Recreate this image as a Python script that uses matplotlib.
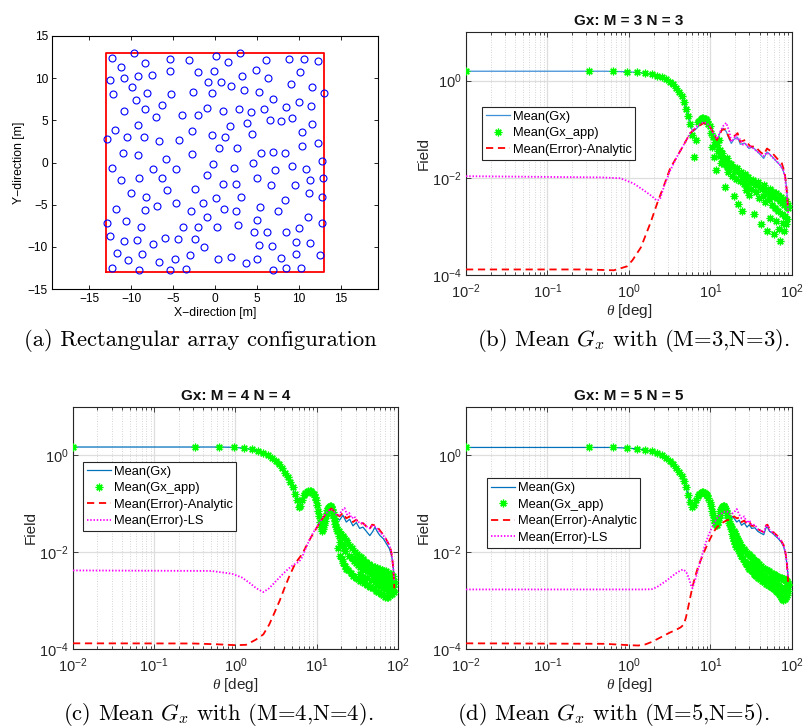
import numpy as np
import matplotlib
matplotlib.use("Agg")
import matplotlib.pyplot as plt
from matplotlib.ticker import FixedLocator, LogLocator, NullFormatter, NullLocator

# ---------------- data ----------------
# (a) element positions [m]
ant_x = [-9.7, 3.0, -12.2, -5.4, -3.1, 0.1, 1.5, 6.1, 8.8, 10.6,
         12.2, -11.2, -8.3, -12.5, -10.8, -9.2, -7.5, -5.3, -2.0, -0.1,
         3.2, 4.9, 6.3, 10.1, -0.8, 0.7, 1.9, 3.4, 9.0, 11.5,
         -9.9, -12.1, -8.1, -5.2, -2.6, -0.4, 5.2, 13.0, -9.4, -6.3,
         -10.8, -8.3, -1.0, 1.0, 2.9, 4.3, 5.8, 6.9, 8.4, 10.0,
         11.4, -7.0, -3.9, -2.0, 1.8, 3.8, 6.6, 7.9, 9.2, -9.2,
         -11.9, -2.7, -0.3, 1.2, 4.4, 10.4, 11.5, -12.9, -10.5, -8.5,
         -6.7, -4.3, 0.5, 2.6, 6.9, 8.3, 10.3, 12.3, -11.0, -9.2,
         -5.8, -2.7, -0.2, 2.3, 4.5, 5.5, 7.1, 9.2, 10.8, 12.7,
         -12.3, -7.4, -4.7, -0.9, -9.1, -6.3, -11.2, 0.9, 2.5, 5.0,
         6.7, 9.5, 11.3, 12.8, -10.0, -8.2, -5.7, -2.4, 3.1, 11.2,
         12.7, -11.8, -8.3, -6.9, -4.7, -2.9, -1.4, 0.1, 1.1, 2.5,
         5.4, 7.5, 8.3, -12.8, -10.6, -8.8, -3.8, -2.0, -0.9, 0.2,
         2.7, 4.6, 5.0, 6.2, 8.5, 10.0, 11.1, 12.7, -12.5, -10.8,
         -9.3, -7.4, -6.0, -4.4, -2.4, -1.3, 5.2, 6.8, 9.7, 11.3,
         -11.7, -10.3, -8.7, -6.7, -4.8, -3.0, 0.4, 1.9, 3.7, 5.0,
         7.8, 9.6, 12.5, -12.3, -9.0, -5.4, -3.4, 6.9, 8.5, 10.2]
ant_y = [13.0, 13.0, 12.4, 12.3, 12.1, 12.6, 11.9, 12.2, 12.3, 12.3,
         12.0, 11.3, 11.8, 9.8, 10.0, 10.3, 10.4, 10.8, 10.7, 10.9,
         10.2, 11.0, 10.0, 10.7, 9.6, 9.5, 9.1, 8.6, 9.3, 9.0,
         8.9, 8.1, 8.2, 8.1, 8.4, 8.3, 8.4, 8.3, 7.4, 6.8,
         6.1, 6.3, 6.5, 6.1, 6.4, 6.0, 6.4, 7.5, 6.6, 7.2,
         6.7, 5.4, 5.6, 5.6, 4.3, 4.7, 5.0, 4.9, 5.3, 4.5,
         3.9, 3.7, 3.3, 3.0, 3.4, 3.6, 4.6, 2.8, 3.0, 3.0,
         2.6, 2.7, 1.7, 1.7, 1.3, 1.1, 1.9, 2.3, 1.1, 0.9,
         0.4, 1.0, -0.2, -0.6, -0.1, 1.1, -0.9, -0.4, -0.8, 0.2,
         -0.7, -0.8, -0.8, -1.5, -1.8, -1.8, -2.1, -2.6, -2.5, -1.8,
         -2.7, -2.7, -2.1, -1.8, -3.6, -4.1, -3.3, -3.2, -4.1, -3.6,
         -4.1, -5.5, -5.6, -5.1, -4.8, -5.7, -4.8, -4.2, -5.5, -5.8,
         -5.3, -5.7, -4.5, -7.2, -6.9, -7.6, -7.6, -7.7, -6.5, -7.7,
         -7.4, -8.2, -6.8, -8.2, -8.3, -7.8, -6.5, -7.2, -8.7, -9.3,
         -9.2, -9.7, -9.0, -9.1, -9.1, -10.0, -9.8, -9.9, -9.4, -9.6,
         -10.7, -11.6, -10.8, -11.8, -11.4, -11.0, -11.4, -11.2, -11.9, -11.4,
         -11.3, -10.8, -11.0, -12.5, -12.8, -12.8, -12.6, -12.7, -12.5, -12.5]
edge_x = [-13, 13, 13, -13, -13]
edge_y = [-13, -13, 13, 13, -13]

# (b) M = N = 3
gx3_t = [0.01, 0.5, 0.95, 1.27, 1.58, 1.95, 2.3, 2.65, 2.92, 3.2,
         3.52, 3.8, 4.05, 4.33, 4.58, 4.81, 4.99, 5.23, 5.43, 5.64,
         5.9, 6.1, 6.4, 6.8, 7.3, 7.8, 8.6, 9.5, 10.4, 11.2,
         11.8, 12.4, 13.0, 14.2, 15.6, 16.8, 18.0, 19.4, 21.5, 23.2,
         24.5, 26.0, 28.0, 29.6, 31.5, 33.2, 35.5, 38.0, 41.6, 45.0,
         49.3, 53.0, 58.5, 65.5, 72.0, 77.5, 82.5, 85.5, 88.0, 90.0]
gx3_v = [1.56, 1.56, 1.52, 1.47, 1.42, 1.33, 1.23, 1.14, 1.05, 0.92,
         0.83, 0.70, 0.60, 0.52, 0.42, 0.345, 0.27, 0.21, 0.17, 0.133,
         0.1, 0.09, 0.095, 0.105, 0.12, 0.135, 0.144, 0.133, 0.097, 0.07,
         0.056, 0.065, 0.083, 0.105, 0.09, 0.065, 0.051, 0.062, 0.068, 0.049,
         0.05, 0.052, 0.046, 0.04, 0.042, 0.042, 0.038, 0.034, 0.029, 0.025,
         0.034, 0.031, 0.026, 0.021, 0.018, 0.0144, 0.0103, 0.0065, 0.0035, 0.0021]
app3_t = [0.01, 0.32, 0.63, 0.95, 1.26, 1.58, 1.89, 2.2, 2.52, 2.83,
          3.15, 3.46, 3.78, 4.09, 4.41, 4.72, 5.04, 5.35, 5.67, 5.98,
          6.3, 6.61, 6.93, 7.24, 7.56, 7.87, 8.19, 8.5, 8.82, 9.13,
          9.45, 9.76, 10.08, 10.39, 10.71, 11.02, 11.34, 11.65, 11.97, 12.28,
          12.6, 12.91, 13.23, 13.54, 13.86, 14.17, 14.49, 14.8, 15.12, 15.43,
          15.75, 16.06, 16.38, 16.69, 17.0, 17.6, 18.3, 18.9, 19.5, 20.1,
          20.8, 21.4, 22.0, 22.7, 23.3, 23.9, 24.6, 25.2, 25.8, 26.5,
          27.1, 27.7, 28.4, 29.0, 29.6, 30.3, 31.5, 32.8, 34.0, 35.3,
          36.6, 37.8, 39.1, 40.4, 41.6, 42.9, 44.2, 45.4, 46.7, 47.9,
          49.2, 50.5, 51.7, 53.0, 54.3, 55.5, 56.8, 58.0, 59.3, 60.6,
          61.8, 63.1, 64.4, 65.6, 66.9, 68.1, 69.4, 70.7, 71.9, 73.2,
          74.5, 75.7, 77.0, 78.2, 79.5, 80.8, 82.0, 83.3, 84.6, 85.8,
          87.1, 88.3, 89.6]
app3_v = [1.56, 1.56, 1.55, 1.52, 1.47, 1.42, 1.35, 1.26, 1.17, 1.08,
          0.95, 0.85, 0.71, 0.59, 0.49, 0.37, 0.26, 0.185, 0.13, 0.075,
          0.027, 0.06, 0.14, 0.15, 0.165, 0.17, 0.17, 0.165, 0.16, 0.15,
          0.13, 0.114, 0.083, 0.044, 0.07, 0.027, 0.055, 0.0144, 0.048, 0.035,
          0.06, 0.028, 0.037, 0.02, 0.032, 0.026, 0.019, 0.023, 0.0065, 0.021,
          0.017, 0.025, 0.013, 0.02, 0.016, 0.019, 0.011, 0.017, 0.0042, 0.014,
          0.0095, 0.016, 0.0029, 0.012, 0.0085, 0.013, 0.0021, 0.0105, 0.0075, 0.012,
          0.0055, 0.009, 0.0065, 0.0105, 0.0045, 0.0082, 0.0058, 0.0092, 0.0018, 0.0072,
          0.005, 0.0082, 0.0038, 0.0065, 0.0011, 0.0058, 0.0042, 0.007, 0.0032, 0.0055,
          0.0008, 0.0048, 0.0036, 0.006, 0.0015, 0.0045, 0.0028, 0.0052, 0.0007, 0.0041,
          0.0024, 0.0048, 0.0013, 0.0038, 0.0021, 0.0044, 0.0009, 0.0034, 0.0005, 0.0041,
          0.0018, 0.003, 0.0012, 0.0036, 0.0008, 0.0027, 0.0016, 0.0033, 0.0011, 0.0025,
          0.0014, 0.0028, 0.0024]
err3_t = [0.01, 0.3, 0.65, 0.94, 1.1, 1.4, 1.85, 2.25, 2.7, 3.2,
          3.87, 4.67, 5.64, 6.8, 8.2, 9.5, 10.9, 12.0, 13.8, 15.2,
          17.5, 19.2, 21.5, 23.2, 26.7, 30.8, 35.4, 40.8, 45.0, 49.3,
          54.2, 65.5, 75.0, 81.5, 85.5, 89.0, 90.0]
err3_v = [1.3e-4, 1.3e-4, 1.25e-4, 1.5e-4, 2.0e-4, 3.7e-4, 1.23e-3, 3.2e-3, 7.1e-3, 0.0157,
          0.027, 0.047, 0.083, 0.11, 0.133, 0.125, 0.083, 0.06, 0.097, 0.1,
          0.06, 0.07, 0.083, 0.055, 0.06, 0.044, 0.044, 0.034, 0.03, 0.04,
          0.036, 0.025, 0.02, 0.0125, 0.0065, 0.0027, 0.0022]
ls3_t = [0.01, 0.44, 0.78, 1.13, 1.5, 1.8, 2.0, 2.2, 2.4, 2.7,
         3.2, 3.87, 4.67, 5.64, 6.8, 8.2, 9.0, 9.9, 10.9, 12.0,
         13.2, 14.5, 15.6, 17.0, 18.0, 19.4, 20.5, 21.5, 23.2, 25.0,
         26.8, 29.0, 31.5, 35.0, 38.0, 42.0, 45.0, 49.0, 53.0, 58.0,
         65.0, 72.0, 78.0, 82.0, 85.5, 88.0, 90.0]
ls3_v = [0.0108, 0.0102, 0.0098, 0.0077, 0.0056, 0.0045, 0.0039, 0.0034, 0.0036, 0.0068,
         0.014, 0.027, 0.047, 0.083, 0.115, 0.14, 0.135, 0.11, 0.08, 0.062,
         0.09, 0.12, 0.135, 0.09, 0.055, 0.065, 0.075, 0.06, 0.062, 0.048,
         0.05, 0.042, 0.044, 0.038, 0.034, 0.03, 0.028, 0.033, 0.03, 0.026,
         0.022, 0.018, 0.0145, 0.0105, 0.0055, 0.0028, 0.0018]

# sample angles of Gx_app (c, d): smooth part, then the scattered part
app_grid_t = [0.01, 0.32, 0.63, 0.95, 1.26, 1.58, 1.89, 2.2, 2.52, 2.83,
              3.15, 3.46, 3.78, 4.09, 4.41, 4.72, 5.04, 5.35, 5.67, 5.98,
              6.3, 6.61, 6.93, 7.24, 7.56, 7.87, 8.19, 8.5, 8.82, 9.13,
              9.45, 9.76, 10.08, 10.39, 10.71, 11.02, 11.34, 11.65, 11.97, 12.28,
              12.6, 12.91, 13.23, 13.54, 13.86, 14.17, 14.49, 14.8, 15.12, 15.43,
              15.75, 16.06, 16.38, 16.69, 17.0]
cloud_t = [17.3, 17.6, 18.0, 18.3, 18.6, 18.9, 19.2, 19.6, 19.9, 20.2,
           20.5, 20.8, 21.1, 21.5, 21.8, 22.1, 22.4, 22.7, 23.0, 23.6,
           24.3, 24.9, 25.5, 26.2, 26.8, 27.4, 28.1, 28.7, 29.3, 30.0,
           30.6, 31.2, 31.9, 32.5, 33.1, 33.8, 34.4, 35.0, 35.7, 36.3,
           36.9, 38.2, 39.4, 40.7, 42.0, 43.2, 44.5, 45.8, 47.0, 48.3,
           49.6, 50.8, 52.1, 53.4, 54.6, 55.9, 57.1, 58.4, 59.7, 60.9,
           62.2, 63.5, 64.7, 66.0, 67.2, 68.5, 69.8, 71.0, 72.3, 73.6,
           74.8, 76.1, 77.3, 78.6, 79.9, 81.1, 82.4, 83.7, 84.9, 86.2,
           87.4, 88.7, 89.9,
           30.3, 32.2, 34.1, 36.0, 37.6, 39.1, 41.3, 43.8, 46.4, 48.9,
           51.5, 54.0, 56.5, 59.0, 61.6, 64.1, 66.6, 69.1, 71.7, 74.2,
           76.7, 79.2, 81.8, 84.3, 86.8, 89.3]

# (c) M = N = 4
gx4_t = [0.01, 0.6, 0.95, 1.26, 1.57, 1.9, 2.2, 2.5, 2.8, 3.1,
         3.5, 3.8, 4.1, 4.4, 4.7, 5.0, 5.3, 5.6, 5.9, 6.2,
         6.6, 6.9, 7.2, 7.6, 7.9, 8.2, 8.5, 8.8, 9.1, 9.4,
         9.8, 10.1, 10.4, 10.7, 11.0, 11.3, 11.7, 12.0, 12.6, 13.2,
         13.9, 14.5, 15.1, 15.8, 16.5, 17.4, 19.1, 21.0, 23.1, 25.4,
         27.9, 30.7, 33.7, 37.0, 40.8, 45.0, 49.0, 52.0, 56.0, 60.0,
         66.0, 72.0, 78.0, 82.0, 85.0, 87.0, 89.0, 90.0]
gx4_v = [1.49, 1.49, 1.47, 1.41, 1.33, 1.24, 1.14, 1.02, 0.9, 0.78,
         0.64, 0.53, 0.44, 0.36, 0.28, 0.22, 0.17, 0.13, 0.095, 0.088,
         0.12, 0.15, 0.165, 0.175, 0.18, 0.18, 0.178, 0.17, 0.16, 0.145,
         0.125, 0.1, 0.08, 0.06, 0.045, 0.036, 0.032, 0.038, 0.055, 0.075,
         0.09, 0.095, 0.088, 0.072, 0.06, 0.052, 0.046, 0.058, 0.042, 0.048,
         0.035, 0.041, 0.031, 0.033, 0.027, 0.022, 0.027, 0.033, 0.026, 0.022,
         0.019, 0.015, 0.012, 0.0095, 0.007, 0.005, 0.0035, 0.003]
app4_grid_v = [1.49, 1.49, 1.49, 1.47, 1.41, 1.33, 1.24, 1.14, 1.02, 0.9,
               0.78, 0.65, 0.54, 0.44, 0.36, 0.28, 0.22, 0.16, 0.12, 0.085,
               0.09, 0.12, 0.15, 0.165, 0.175, 0.18, 0.185, 0.18, 0.17, 0.16,
               0.14, 0.12, 0.095, 0.072, 0.055, 0.042, 0.033, 0.028, 0.03, 0.036,
               0.045, 0.055, 0.065, 0.073, 0.08, 0.085, 0.088, 0.088, 0.085, 0.078,
               0.068, 0.06, 0.052, 0.045, 0.038]
app4_cloud_v = [0.033, 0.028, 0.03, 0.012, 0.022, 0.027, 0.0085, 0.016, 0.024, 0.0072,
                0.014, 0.022, 0.006, 0.012, 0.02, 0.0052, 0.0105, 0.018, 0.0045, 0.016,
                0.0042, 0.0085, 0.0135, 0.0037, 0.0075, 0.012, 0.0033, 0.0065, 0.0102, 0.003,
                0.006, 0.0092, 0.0028, 0.0054, 0.0084, 0.0026, 0.005, 0.0078, 0.0025, 0.0046,
                0.0073, 0.0023, 0.0043, 0.0064, 0.0021, 0.004, 0.0057, 0.0019, 0.0036, 0.0052,
                0.0018, 0.0033, 0.0049, 0.0016, 0.003, 0.0047, 0.0015, 0.0028, 0.0045, 0.0014,
                0.0026, 0.0043, 0.0013, 0.0024, 0.0041, 0.0012, 0.0023, 0.004, 0.0012, 0.0022,
                0.0038, 0.0012, 0.0022, 0.0036, 0.0013, 0.0022, 0.0035, 0.0014, 0.0023, 0.0032,
                0.0016, 0.0022, 0.0015,
                0.0075, 0.0068, 0.0036, 0.006, 0.0031, 0.0055, 0.0029, 0.0049, 0.0027, 0.0042,
                0.0024, 0.0039, 0.0021, 0.0036, 0.002, 0.0034, 0.0018, 0.0031, 0.0017, 0.003,
                0.0016, 0.0028, 0.0017, 0.0027, 0.0019, 0.0025]
err4_t = [0.01, 0.3, 0.6, 1.0, 1.35, 1.77, 2.2, 2.6, 3.0, 3.5,
          4.0, 4.6, 5.2, 5.8, 6.4, 7.0, 8.0, 9.0, 10.0, 11.0,
          12.0, 13.0, 14.0, 15.1, 16.5, 17.4, 19.1, 21.0, 23.1, 25.4,
          27.9, 30.7, 33.7, 37.0, 40.8, 44.8, 48.0, 52.0, 56.0, 60.0,
          66.0, 72.0, 78.0, 82.0, 85.0, 87.0, 89.0, 90.0]
err4_v = [1.31e-4, 1.3e-4, 1.25e-4, 1.2e-4, 1.22e-4, 1.55e-4, 2.0e-4, 3.2e-4, 5.5e-4, 1.0e-3,
          1.8e-3, 3.2e-3, 5.0e-3, 6.8e-3, 8.5e-3, 0.011, 0.017, 0.024, 0.032, 0.042,
          0.052, 0.062, 0.072, 0.08, 0.07, 0.062, 0.055, 0.065, 0.05, 0.055,
          0.042, 0.047, 0.038, 0.04, 0.034, 0.03, 0.037, 0.036, 0.033, 0.028,
          0.023, 0.018, 0.014, 0.011, 0.0075, 0.005, 0.0028, 0.0018]
ls4_t = [0.01, 0.5, 0.9, 1.2, 1.5, 1.8, 2.2, 2.6, 3.2, 3.8,
         4.5, 5.3, 6.0, 6.5, 7.0, 8.0, 9.0, 10.0, 11.0, 12.0,
         13.0, 14.0, 15.0, 16.5, 17.4, 19.0, 20.0, 22.0, 23.5, 25.0,
         27.0, 29.0, 31.0, 34.0, 37.0, 41.0, 45.0, 48.0, 52.0, 56.0,
         60.0, 66.0, 72.0, 78.0, 82.0, 85.0, 87.0, 89.0, 90.0]
ls4_v = [0.0042, 0.0041, 0.0036, 0.003, 0.0023, 0.0018, 0.0015, 0.0018, 0.0026, 0.0035,
         0.0046, 0.0056, 0.0063, 0.0075, 0.01, 0.017, 0.025, 0.033, 0.043, 0.053,
         0.063, 0.072, 0.078, 0.068, 0.06, 0.058, 0.07, 0.082, 0.06, 0.065,
         0.05, 0.055, 0.045, 0.04, 0.04, 0.034, 0.031, 0.035, 0.034, 0.03,
         0.026, 0.022, 0.018, 0.014, 0.011, 0.0075, 0.005, 0.0032, 0.0025]

# (d) M = N = 5
gx5_t = [0.01, 0.6, 0.95, 1.26, 1.58, 1.89, 2.2, 2.5, 2.9, 3.5,
         4.1, 4.7, 5.0, 5.4, 5.7, 5.95, 6.3, 6.9, 7.6, 8.2,
         8.8, 9.4, 10.0, 10.6, 11.2, 11.7, 12.3, 13.0, 13.8, 14.5,
         15.2, 15.9, 16.7, 17.5, 18.5, 19.5, 21.0, 22.5, 24.0, 26.0,
         28.0, 30.0, 32.0, 35.0, 38.0, 41.0, 45.0, 48.0, 50.0, 53.0,
         57.0, 62.0, 68.0, 74.0, 79.0, 83.0, 86.0, 88.0, 90.0]
gx5_v = [1.46, 1.46, 1.42, 1.36, 1.3, 1.22, 1.12, 1.0, 0.85, 0.66,
         0.46, 0.29, 0.22, 0.14, 0.1, 0.085, 0.095, 0.14, 0.165, 0.172,
         0.16, 0.135, 0.1, 0.065, 0.045, 0.04, 0.05, 0.068, 0.085, 0.09,
         0.08, 0.065, 0.05, 0.047, 0.055, 0.05, 0.042, 0.046, 0.036, 0.04,
         0.033, 0.037, 0.031, 0.032, 0.027, 0.025, 0.023, 0.032, 0.033, 0.027,
         0.025, 0.022, 0.019, 0.016, 0.013, 0.0095, 0.0062, 0.0042, 0.003]
app5_grid_v = [1.46, 1.46, 1.46, 1.42, 1.36, 1.3, 1.22, 1.12, 1.0, 0.88,
               0.76, 0.66, 0.55, 0.46, 0.37, 0.29, 0.22, 0.15, 0.11, 0.085,
               0.095, 0.12, 0.145, 0.16, 0.17, 0.175, 0.175, 0.17, 0.16, 0.15,
               0.13, 0.11, 0.09, 0.072, 0.058, 0.047, 0.04, 0.036, 0.036, 0.042,
               0.05, 0.06, 0.07, 0.078, 0.085, 0.09, 0.09, 0.088, 0.082, 0.075,
               0.066, 0.058, 0.05, 0.045, 0.04]
app5_cloud_v = [0.036, 0.03, 0.034, 0.024, 0.03, 0.02, 0.028, 0.017, 0.025, 0.015,
                0.022, 0.013, 0.02, 0.0115, 0.018, 0.0105, 0.016, 0.0095, 0.0145, 0.0085,
                0.013, 0.0072, 0.0115, 0.0063, 0.0105, 0.0056, 0.0095, 0.005, 0.009, 0.0046,
                0.0083, 0.0043, 0.0078, 0.004, 0.0074, 0.0036, 0.007, 0.0034, 0.0066, 0.0032,
                0.0062, 0.003, 0.0056, 0.0028, 0.0052, 0.0026, 0.0048, 0.0024, 0.0045, 0.0022,
                0.0042, 0.0021, 0.004, 0.002, 0.0038, 0.0019, 0.0036, 0.0018, 0.0035, 0.0017,
                0.0034, 0.0016, 0.0032, 0.0015, 0.0031, 0.0014, 0.003, 0.0013, 0.003, 0.0012,
                0.0029, 0.0011, 0.0028, 0.00105, 0.0028, 0.0011, 0.0027, 0.0012, 0.0027, 0.0013,
                0.0026, 0.0016, 0.0021,
                0.006, 0.0055, 0.005, 0.0045, 0.0042, 0.0039, 0.0037, 0.0034, 0.0032, 0.003,
                0.0029, 0.0027, 0.0026, 0.0024, 0.0023, 0.0022, 0.0021, 0.002, 0.0019, 0.0018,
                0.0017, 0.0016, 0.0017, 0.0018, 0.0019, 0.0022]
err5_t = [0.01, 0.5, 1.0, 1.3, 1.6, 1.9, 2.3, 2.7, 3.2, 3.8,
          4.3, 4.7, 5.0, 5.3, 5.6, 6.0, 6.5, 7.0, 7.5, 8.2,
          9.0, 9.9, 10.9, 12.0, 13.2, 14.5, 15.9, 17.5, 18.5, 19.5,
          21.0, 22.5, 24.0, 26.0, 28.0, 30.0, 32.0, 35.0, 38.0, 41.0,
          45.0, 48.0, 50.0, 53.0, 57.0, 62.0, 68.0, 74.0, 79.0, 83.0,
          86.0, 88.0, 90.0]
err5_v = [1.31e-4, 1.28e-4, 1.2e-4, 1.18e-4, 1.25e-4, 1.4e-4, 1.65e-4, 1.9e-4, 2.2e-4, 2.5e-4,
          2.8e-4, 3.2e-4, 4.5e-4, 7e-4, 1.1e-3, 1.9e-3, 3.2e-3, 4.8e-3, 6.5e-3, 9.5e-3,
          0.0135, 0.019, 0.026, 0.033, 0.038, 0.042, 0.046, 0.047, 0.052, 0.055,
          0.05, 0.052, 0.042, 0.045, 0.038, 0.042, 0.035, 0.035, 0.03, 0.028,
          0.026, 0.036, 0.037, 0.03, 0.027, 0.024, 0.021, 0.017, 0.014, 0.01,
          0.0065, 0.004, 0.0022]
ls5_t = [0.01, 0.5, 1.0, 1.5, 1.9, 2.2, 2.5, 2.9, 3.3, 3.8,
         4.3, 4.6, 5.0, 5.4, 5.8, 6.0, 6.3, 6.8, 7.5, 8.2,
         9.0, 9.9, 10.9, 12.0, 13.2, 14.5, 15.9, 17.5, 19.2, 21.0,
         22.5, 24.0, 26.0, 28.0, 30.0, 32.0, 35.0, 38.0, 41.0, 45.0,
         48.0, 50.0, 53.0, 57.0, 62.0, 68.0, 74.0, 79.0, 83.0, 86.0,
         88.0, 90.0]
ls5_v = [1.7e-3, 1.7e-3, 1.7e-3, 1.7e-3, 1.72e-3, 1.9e-3, 2.2e-3, 2.6e-3, 3.1e-3, 3.7e-3,
         4.2e-3, 4.4e-3, 4.0e-3, 3.0e-3, 2.0e-3, 1.8e-3, 2.3e-3, 3.5e-3, 6.5e-3, 0.011,
         0.018, 0.027, 0.038, 0.05, 0.06, 0.068, 0.07, 0.06, 0.065, 0.078,
         0.06, 0.05, 0.055, 0.04, 0.046, 0.036, 0.037, 0.03, 0.028, 0.026,
         0.035, 0.036, 0.029, 0.026, 0.023, 0.02, 0.017, 0.0135, 0.01, 0.0065,
         0.0042, 0.003]

# ---------------- style ----------------
plt.rcParams["font.family"] = ["Liberation Sans", "DejaVu Sans"]
plt.rcParams["mathtext.fontset"] = "custom"
plt.rcParams["mathtext.rm"] = "Liberation Sans"
plt.rcParams["mathtext.it"] = "Liberation Serif:italic"
plt.rcParams["mathtext.bf"] = "Liberation Sans:bold"
plt.rcParams["xtick.direction"] = "in"
plt.rcParams["ytick.direction"] = "in"

W, H = 804, 728
fig = plt.figure(figsize=(W / 100, H / 100), dpi=100)


def px_rect(x0, y0, x1, y1):
    return [x0 / W, 1 - y1 / H, (x1 - x0) / W, (y1 - y0) / H]


# (a) array layout
ax = fig.add_axes(px_rect(52, 36, 378, 289))
ax.plot(edge_x, edge_y, color="red", lw=1.3)
ax.plot(ant_x, ant_y, "o", mfc="none", mec="blue", ms=5, mew=0.8)
ax.set_xlim(-19.4, 19.4)
ax.set_ylim(-15, 15)
ax.set_xticks(range(-15, 16, 5))
ax.set_yticks(range(-15, 16, 5))
ax.tick_params(labelsize=8.6, top=True, right=True, length=3, width=0.6, pad=3)
ax.set_xlabel("X\u2212direction [m]", fontsize=8.8, labelpad=1)
ax.set_ylabel("Y\u2212direction [m]", fontsize=8.8, labelpad=2)
for s in ax.spines.values():
    s.set_linewidth(0.8)

GREEN = (0, 1, 0)
AX_COL = "#262626"


def field_panel(rect, title, gx, app, err, ls, leg_xy, ls_label, blue):
    ax = fig.add_axes(px_rect(*rect))
    ax.plot(gx[0], gx[1], color=blue, lw=0.9, label="Mean(Gx)", zorder=3)
    ax.plot(app[0], app[1], ls="none", marker=(8, 2, 0), ms=5.5, mew=0.9,
            color=GREEN, label="Mean(Gx_app)", zorder=4)
    ax.plot(err[0], err[1], color="red", lw=1.3, ls=(0, (4, 2.6)),
            label="Mean(Error)-Analytic", zorder=5)
    ax.plot(ls[0], ls[1], color="magenta", lw=1.3, ls=(0, (0.8, 1.0)),
            label=ls_label, zorder=6)
    ax.set_xscale("log")
    ax.set_yscale("log")
    ax.set_xlim(1e-2, 1e2)
    ax.set_ylim(1e-4, 1e1)
    ax.yaxis.set_major_locator(FixedLocator([1e-4, 1e-2, 1e0]))
    ax.yaxis.set_minor_locator(NullLocator())
    ax.xaxis.set_minor_locator(LogLocator(base=10, subs=np.arange(2, 10)))
    ax.xaxis.set_minor_formatter(NullFormatter())
    ax.grid(True, which="major", color="#dedede", lw=0.9)
    ax.grid(True, which="minor", axis="x", color="#c8c8c8", lw=0.6, ls=(0, (1, 2)))
    ax.set_axisbelow(True)
    ax.tick_params(which="both", labelsize=10.5, top=True, right=True,
                   colors=AX_COL, width=0.6)
    ax.tick_params(axis="x", pad=5)
    ax.tick_params(axis="y", pad=3)
    ax.tick_params(which="major", length=3.5)
    ax.tick_params(which="minor", length=2)
    for s in ax.spines.values():
        s.set_linewidth(0.8)
        s.set_color(AX_COL)
    ax.set_title(title, fontsize=11, fontweight="bold", pad=5, color="#111111")
    ax.set_xlabel(r"$\theta$ [deg]", fontsize=11, labelpad=1, color=AX_COL)
    ax.set_ylabel("Field", fontsize=11, labelpad=1, color=AX_COL)
    leg = ax.legend(loc="upper left", bbox_to_anchor=leg_xy, fontsize=9.3,
                    frameon=True, fancybox=False, framealpha=1,
                    edgecolor=AX_COL, borderpad=0.3, labelspacing=0.35,
                    handlelength=1.9, handletextpad=0.2, borderaxespad=0)
    leg.get_frame().set_linewidth(0.8)
    leg.set_zorder(10)
    return ax


field_panel((466, 32, 792, 275), "Gx: M = 3 N = 3",
            (gx3_t, gx3_v), (app3_t, app3_v), (err3_t, err3_v), (ls3_t, ls3_v),
            (0.048, 0.693), "_nolegend_", "#3d8fd6")
field_panel((73, 407, 398, 649), "Gx: M = 4 N = 4",
            (gx4_t, gx4_v), (app_grid_t + cloud_t, app4_grid_v + app4_cloud_v),
            (err4_t, err4_v), (ls4_t, ls4_v),
            (0.030, 0.774), "Mean(Error)-LS", "#0072BD")
field_panel((466, 407, 792, 649), "Gx: M = 5 N = 5",
            (gx5_t, gx5_v), (app_grid_t + cloud_t, app5_grid_v + app5_cloud_v),
            (err5_t, err5_v), (ls5_t, ls5_v),
            (0.0635, 0.705), "Mean(Error)-LS", "#0072BD")

# sub-figure captions
cap = dict(ha="center", va="center", fontsize=16.3, family="cmr10", math_fontfamily="cm")
fig.text(200 / W, 1 - 341 / H, "(a) Rectangular array configuration", **cap)
fig.text(633 / W, 1 - 341 / H, r"(b) Mean $G_x$ with (M=3,N=3).", **cap)
fig.text(218 / W, 1 - 714 / H, r"(c) Mean $G_x$ with (M=4,N=4).", **cap)
fig.text(613 / W, 1 - 714 / H, r"(d) Mean $G_x$ with (M=5,N=5).", **cap)

fig.savefig("out.png", dpi=100)
